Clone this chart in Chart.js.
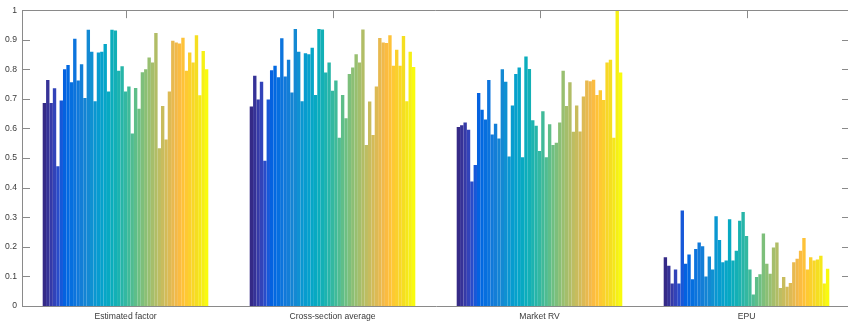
<!DOCTYPE html>
<html>
<head>
<meta charset="utf-8">
<script src="https://cdn.jsdelivr.net/npm/chart.js@4/dist/chart.umd.min.js"></script>
<style>
html,body{margin:0;padding:0;background:#fff;overflow:hidden}
#wrap{width:852px;height:325px;position:relative}
</style>
</head>
<body>
<div id="wrap"><canvas id="barChart"></canvas></div>
<script>
const categories = ['Estimated factor','Cross-section average','Market RV','EPU']
const yTicks = [0,0.1,0.2,0.3,0.4,0.5,0.6,0.7,0.8,0.9,1]

const estimatedFactor = [0.686,0.764,0.686,0.736,0.472,0.695,0.80,0.815,0.756,0.903,
  0.762,0.817,0.703,0.934,0.859,0.692,0.857,0.859,0.886,0.725,
  0.934,0.931,0.795,0.81,0.725,0.742,0.583,0.737,0.667,0.79,
  0.80,0.84,0.823,0.923,0.533,0.676,0.563,0.725,0.897,0.891,
  0.887,0.907,0.795,0.857,0.823,0.915,0.712,0.862,0.80]
const crossSection = [0.674,0.778,0.698,0.758,0.491,0.698,0.797,0.812,0.773,0.905,
  0.776,0.832,0.722,0.936,0.859,0.692,0.854,0.851,0.873,0.713,
  0.936,0.935,0.789,0.823,0.728,0.762,0.569,0.713,0.635,0.784,
  0.806,0.851,0.823,0.935,0.544,0.691,0.578,0.742,0.906,0.891,
  0.889,0.915,0.812,0.866,0.812,0.913,0.692,0.859,0.808]
const marketRV = [0.605,0.611,0.62,0.596,0.421,0.477,0.72,0.663,0.63,0.764,
  0.58,0.616,0.566,0.80,0.758,0.505,0.678,0.784,0.806,0.503,
  0.843,0.801,0.628,0.609,0.524,0.658,0.503,0.614,0.544,0.552,
  0.62,0.795,0.676,0.756,0.589,0.678,0.59,0.708,0.762,0.76,
  0.765,0.713,0.729,0.696,0.823,0.832,0.569,1.0,0.789]
const epu = [0.165,0.136,0.076,0.123,0.076,0.323,0.143,0.174,0.09,0.193,
  0.215,0.202,0.10,0.167,0.123,0.303,0.223,0.148,0.154,0.293,
  0.154,0.187,0.288,0.318,0.237,0.123,0.039,0.098,0.107,0.245,
  0.143,0.109,0.198,0.215,0.061,0.098,0.065,0.078,0.148,0.16,
  0.187,0.23,0.123,0.165,0.154,0.157,0.17,0.076,0.126]

// parula colormap (64 rows)
const parula = [[0.2081,0.1663,0.5292],[0.2116,0.1898,0.5777],[0.2123,0.2138,0.6270],[0.2081,0.2386,0.6771],
[0.1959,0.2645,0.7279],[0.1707,0.2919,0.7792],[0.1253,0.3242,0.8303],[0.0591,0.3598,0.8683],
[0.0117,0.3875,0.8820],[0.0060,0.4086,0.8828],[0.0165,0.4266,0.8786],[0.0329,0.4430,0.8720],
[0.0498,0.4586,0.8641],[0.0629,0.4737,0.8554],[0.0723,0.4887,0.8467],[0.0779,0.5040,0.8384],
[0.0793,0.5200,0.8312],[0.0749,0.5375,0.8263],[0.0641,0.5570,0.8240],[0.0488,0.5772,0.8228],
[0.0343,0.5966,0.8199],[0.0265,0.6137,0.8135],[0.0239,0.6287,0.8038],[0.0231,0.6418,0.7913],
[0.0228,0.6535,0.7768],[0.0267,0.6642,0.7607],[0.0384,0.6743,0.7436],[0.0590,0.6838,0.7254],
[0.0843,0.6928,0.7062],[0.1133,0.7015,0.6859],[0.1453,0.7098,0.6646],[0.1801,0.7177,0.6424],
[0.2178,0.7250,0.6193],[0.2586,0.7317,0.5954],[0.3022,0.7376,0.5712],[0.3482,0.7424,0.5473],
[0.3953,0.7459,0.5244],[0.4420,0.7481,0.5033],[0.4871,0.7491,0.4840],[0.5300,0.7491,0.4661],
[0.5709,0.7485,0.4494],[0.6099,0.7473,0.4337],[0.6473,0.7456,0.4188],[0.6834,0.7435,0.4044],
[0.7184,0.7411,0.3905],[0.7525,0.7384,0.3768],[0.7858,0.7356,0.3633],[0.8185,0.7327,0.3498],
[0.8507,0.7299,0.3360],[0.8824,0.7274,0.3217],[0.9139,0.7258,0.3063],[0.9450,0.7261,0.2886],
[0.9739,0.7314,0.2666],[0.9938,0.7455,0.2403],[0.9990,0.7653,0.2164],[0.9955,0.7861,0.1967],
[0.9880,0.8066,0.1794],[0.9789,0.8271,0.1633],[0.9697,0.8481,0.1475],[0.9626,0.8705,0.1309],
[0.9589,0.8949,0.1132],[0.9598,0.9218,0.0948],[0.9661,0.9514,0.0755],[0.9763,0.9831,0.0538]]

function parulaAt(t){
  const p = t*(parula.length-1)
  const i = Math.min(Math.floor(p), parula.length-2)
  const f = p-i
  const c = parula[i].map((v,k)=>Math.round(255*(v+(parula[i+1][k]-v)*f)))
  return `rgb(${c[0]},${c[1]},${c[2]})`
}

const nBars = estimatedFactor.length
const datasets = []
for(let i=0;i<nBars;i++){
  datasets.push({
    label:'S'+(i+1),
    data:[estimatedFactor[i],crossSection[i],marketRV[i],epu[i]],
    backgroundColor:parulaAt(i/(nBars-1)),
    borderWidth:0,
    categoryPercentage:0.8,
    barPercentage:1.0
  })
}

const axisColor = '#8a8a8a'
const textColor = '#3a3a3a'

// box + inward ticks, MATLAB style
const boxPlugin = {
  id:'box',
  beforeDatasetsDraw(chart){
    const {ctx, chartArea:a, scales:{x,y}} = chart
    ctx.save()
    ctx.strokeStyle = axisColor
    ctx.lineWidth = 1
    ctx.beginPath()
    yTicks.forEach(v=>{
      const py = Math.round(y.getPixelForValue(v))+0.5
      ctx.moveTo(a.left,py); ctx.lineTo(a.left+8,py)
      ctx.moveTo(a.right,py); ctx.lineTo(a.right-8,py)
    })
    categories.forEach((c,i)=>{
      const px = Math.round(x.getPixelForValue(i))+0.5
      ctx.moveTo(px,a.top); ctx.lineTo(px,a.top+8)
      ctx.moveTo(px,a.bottom); ctx.lineTo(px,a.bottom-8)
    })
    ctx.stroke()
    ctx.restore()
  },
  afterDatasetsDraw(chart){
    const {ctx, chartArea:a} = chart
    ctx.save()
    ctx.strokeStyle = axisColor
    ctx.lineWidth = 1
    ctx.beginPath()
    const t = Math.round(a.top)+0.5, r = Math.round(a.right)-0.5
    ctx.moveTo(a.left,t); ctx.lineTo(r,t)
    ctx.stroke()
    ctx.strokeStyle = '#d0d0d0'
    ctx.beginPath()
    ctx.moveTo(r,t); ctx.lineTo(r,a.bottom)
    ctx.stroke()
    ctx.restore()
  }
}

new Chart(document.getElementById('barChart'),{
  type:'bar',
  data:{labels:categories, datasets:datasets},
  options:{
    responsive:true,
    maintainAspectRatio:false,
    animation:false,
    layout:{padding:{left:0,right:2,top:7,bottom:0}},
    plugins:{legend:{display:false}, tooltip:{enabled:false}},
    scales:{
      x:{
        grid:{display:false, drawTicks:false},
        border:{display:true, color:axisColor},
        ticks:{color:textColor, padding:5, maxRotation:0, font:{family:'Liberation Sans, Arial, sans-serif', size:8.6}},
        afterFit(s){ s.height = 19 }
      },
      y:{
        min:0, max:1,
        grid:{display:false, drawTicks:false},
        border:{display:true, color:axisColor},
        afterBuildTicks(s){ s.ticks = yTicks.map(v=>({value:v})) },
        ticks:{color:textColor, padding:5, font:{family:'Liberation Sans, Arial, sans-serif', size:8.6},
          callback:v=>String(Math.round(v*10)/10)},
        afterFit(s){ s.width = 22 }
      }
    }
  },
  plugins:[boxPlugin]
})
</script>
</body>
</html>
